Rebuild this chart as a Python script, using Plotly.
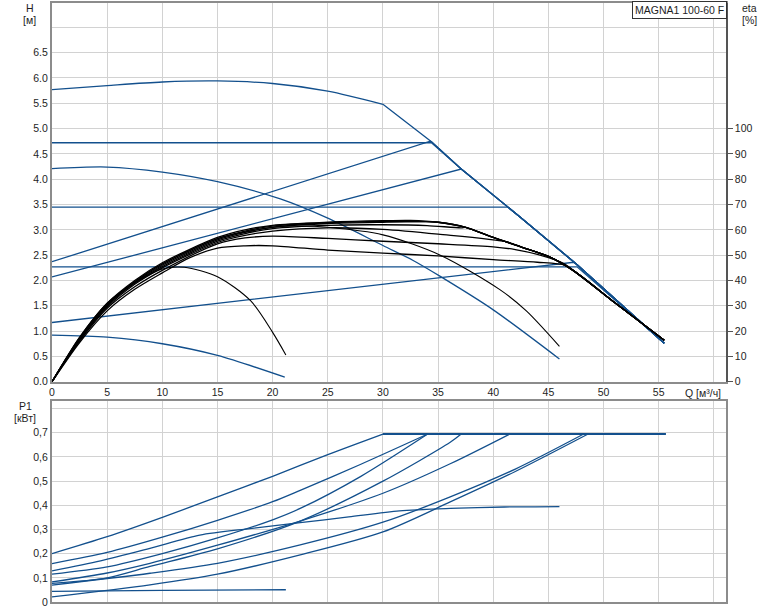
import plotly.graph_objects as go

# ------------------------------------------------------------------
# DATA
# ------------------------------------------------------------------
# Q [m3/h] / H [m] : maximum curve, speed-limited part and power-limited part
q_max_speed = [0, 5, 10, 15, 20, 25, 30.0]
h_max_speed = [5.77, 5.85, 5.92, 5.94, 5.89, 5.74, 5.48]
q_max_power = [30.0, 34.4, 37.1, 42.4, 47.5, 55.5]
h_max_power = [5.48, 4.74, 4.20, 3.26, 2.33, 0.76]

# fixed speed curve and minimum curve
q_fixed = [0, 5, 10, 15, 20.7, 25, 30, 32.7, 35.2, 40, 46]
h_fixed = [4.21, 4.24, 4.14, 3.95, 3.61, 3.23, 2.69, 2.40, 2.08, 1.42, 0.45]
q_min = [0, 5, 10, 15, 21.1]
h_min = [0.92, 0.88, 0.75, 0.52, 0.09]

# constant pressure levels and the flow where they meet the max curve
cp_level = [4.72, 3.45, 2.27]
cp_qend = [34.4, 41.3, 47.6]
# proportional pressure lines: start head, end flow, end head
pp_h0 = [2.37, 2.07, 1.17]
pp_qend = [34.3, 37.1, 47.3]
pp_hend = [4.75, 4.20, 2.36]

# efficiency curves eta [%]
eta_max_q = [0, 2.5, 5, 7.5, 10, 15, 17.5, 20, 25, 30, 32.5, 35, 37.5, 40, 42.5, 45, 47.3, 51, 55.5]
eta_max_v = [0, 17.5, 31, 40, 47, 57, 60, 61.8, 63, 63.6, 63.7, 63, 61, 57, 53.3, 49.5, 43.8, 31.3, 16.4]
eta_cp1_q = [0, 2.5, 5, 7.5, 10, 15, 17.5, 20, 25, 30, 34.4]
eta_cp1_v = [0, 17, 30.5, 39.5, 46.5, 56.5, 59.5, 61.5, 62.8, 63.3, 63.2]
eta_pp1_q = [0, 2.5, 5, 7.5, 10, 15, 17.5, 20, 25, 30, 34.3]
eta_pp1_v = [0, 17, 30.3, 39.2, 46, 56, 59, 61, 62.5, 63, 63.2]
eta_pp2_q = [0, 2.5, 5, 7.5, 10, 15, 17.5, 20, 25, 30, 34, 37.1]
eta_pp2_v = [0, 16.8, 30, 39, 45.5, 55.5, 58.5, 60.5, 61.8, 62, 61.7, 60.8]
eta_cp2_q = [0, 2.5, 5, 7.5, 10, 15, 17.5, 20, 25, 30, 35, 41.3]
eta_cp2_v = [0, 16.5, 29.5, 38.5, 45, 55, 57.8, 59.5, 60.8, 60.2, 58.3, 55.2]
eta_cp3_q = [0, 2.5, 5, 7.5, 10, 15, 17.5, 20, 25, 30, 35, 40, 42, 44, 46.4, 47.6]
eta_cp3_v = [0, 16, 29, 37.5, 44, 54.5, 56.8, 57.5, 56.6, 55.5, 54.5, 53.3, 52.2, 50.3, 46.7, 42.8]
eta_pp3_q = [0, 2.5, 5, 7.5, 10, 12.5, 15, 17.5, 20, 25, 30, 35, 40, 44, 46.5, 47.3]
eta_pp3_v = [0, 15.5, 28, 36.5, 43, 49, 52.8, 53.7, 53.7, 52, 50.8, 49.7, 48.2, 47.2, 46, 43.8]
eta_fix_q = [0, 2.5, 5, 7.5, 10, 15, 20, 22.5, 25, 30, 35.2, 40.6, 43, 46]
eta_fix_v = [0, 17, 30.5, 39.5, 46.5, 56.5, 61, 61.5, 61, 58, 50, 36.4, 28, 14]
eta_min_q = [0, 2.5, 5, 7.5, 10, 12, 15, 18, 20, 21.2]
eta_min_v = [0, 17.5, 31, 39, 44.5, 45.2, 41.5, 32, 19.5, 10.6]

# power P1 [kW]
p_limit = 0.695
p_qmax = 55.6
p_max_q = [0, 5, 10, 15, 20, 25, 30.0]
p_max_v = [0.20, 0.27, 0.35, 0.435, 0.52, 0.61, 0.695]
p_cp1_q = [0, 5, 10, 15, 20, 22.5, 28, 34.06]
p_cp1_v = [0.159, 0.205, 0.268, 0.338, 0.415, 0.462, 0.57, 0.695]
p_pp1_q = [0, 5, 10, 15, 20, 22.5, 28, 34.06]
p_pp1_v = [0.115, 0.145, 0.20, 0.265, 0.34, 0.387, 0.52, 0.695]
p_pp2_q = [0, 5, 8.88, 15, 22.5, 30, 36.1, 37.1]
p_pp2_v = [0.077, 0.10, 0.147, 0.22, 0.335, 0.50, 0.661, 0.695]
p_cp2_q = [0, 5, 8.88, 15, 22.5, 30, 36.1, 41.5]
p_cp2_v = [0.083, 0.12, 0.16, 0.235, 0.335, 0.45, 0.572, 0.695]
p_cp3_q = [0, 8.88, 15, 22.5, 30, 36.1, 42, 48.2]
p_cp3_v = [0.07, 0.119, 0.16, 0.236, 0.33, 0.435, 0.55, 0.695]
p_pp3_q = [0, 8.88, 15, 22.5, 30, 36.1, 42, 48.6]
p_pp3_v = [0.021, 0.071, 0.115, 0.195, 0.29, 0.414, 0.54, 0.695]
p_fix_q = [0, 4.4, 8.88, 13.4, 17.95, 22.5, 26.9, 31.5, 36.1, 41, 46]
p_fix_v = [0.129, 0.17, 0.222, 0.277, 0.304, 0.328, 0.352, 0.377, 0.387, 0.393, 0.395]
p_min_q = [0, 10, 21.2]
p_min_v = [0.044, 0.048, 0.0506]

# axis ticks
q_ticks = list(range(0, 65, 5))
h_ticks = [i * 0.5 for i in range(15)]
eta_ticks = list(range(0, 110, 10))
p_ticks = [i / 10 for i in range(9)]

title_text = "MAGNA1 100-60 F"

# ------------------------------------------------------------------
BLUE = "#13508d"
BLACK = "#000000"
LW = 1.3

fig = go.Figure()


def add(x, y, color, xa="x", ya="y", shape="linear", width=LW):
    fig.add_trace(go.Scatter(x=x, y=y, mode="lines", xaxis=xa, yaxis=ya,
                             line=dict(color=color, width=width, shape=shape,
                                       smoothing=0.8),
                             hoverinfo="skip"))


def tail_after(qend, qs, vs):
    xs = [q for q in qs if q > qend + 0.05]
    ys = [v for q, v in zip(qs, vs) if q > qend + 0.05]
    return xs, ys


# ---- Q-H curves (blue)
add(q_max_speed, h_max_speed, BLUE, shape="spline")
add(q_max_power, h_max_power, BLUE)
add(q_fixed, h_fixed, BLUE, shape="spline")
add(q_min, h_min, BLUE, shape="spline")
for lvl, qe in zip(cp_level, cp_qend):
    tx, ty = tail_after(qe, q_max_power, h_max_power)
    add([0, qe] + tx, [lvl, lvl] + ty, BLUE)
for h0, qe, he in zip(pp_h0, pp_qend, pp_hend):
    tx, ty = tail_after(qe, q_max_power, h_max_power)
    add([0, qe] + tx, [h0, he] + ty, BLUE)

# ---- efficiency curves (black, right axis)
add(eta_max_q, eta_max_v, BLACK, ya="y2", shape="spline")
for eq, ev in [(eta_cp1_q, eta_cp1_v), (eta_pp1_q, eta_pp1_v),
               (eta_pp2_q, eta_pp2_v), (eta_cp2_q, eta_cp2_v),
               (eta_cp3_q, eta_cp3_v), (eta_pp3_q, eta_pp3_v)]:
    tx, ty = tail_after(eq[-1], eta_max_q, eta_max_v)
    add(eq + tx, ev + ty, BLACK, ya="y2", shape="spline")
add(eta_fix_q, eta_fix_v, BLACK, ya="y2", shape="spline", width=1.1)
add(eta_min_q, eta_min_v, BLACK, ya="y2", shape="spline", width=1.1)

# ---- power curves (blue, lower plot)
for pq, pv in [(p_max_q, p_max_v), (p_cp1_q, p_cp1_v), (p_pp1_q, p_pp1_v),
               (p_pp2_q, p_pp2_v), (p_cp2_q, p_cp2_v), (p_cp3_q, p_cp3_v),
               (p_pp3_q, p_pp3_v)]:
    add(pq, pv, BLUE, xa="x2", ya="y3", shape="spline")
    add([pq[-1], p_qmax], [p_limit, p_limit], BLUE, xa="x2", ya="y3", width=1.8)
add(p_fix_q, p_fix_v, BLUE, xa="x2", ya="y3", shape="spline")
add(p_min_q, p_min_v, BLUE, xa="x2", ya="y3", shape="spline")

# ------------------------------------------------------------------
W, H = 774, 611
ML, MR, MT, MB = 52, 48, 1, 9
PW, PH = W - ML - MR, H - MT - MB
TOP_BOTTOM_PX = 381
BOT_TOP_PX = 400

GRID = "#d2d2d2"
AXC = "#8c8c8c"
TXT = "#1e1e1e"
FONT = "Liberation Sans, Arial, sans-serif"

common_x = dict(range=[0, 61.1], tickvals=q_ticks, showgrid=True, gridcolor=GRID,
                gridwidth=1, zeroline=False, showline=True, linecolor=AXC,
                linewidth=2, mirror=True, ticks="")
fig.update_layout(
    width=W, height=H,
    margin=dict(l=ML, r=MR, t=MT, b=MB),
    paper_bgcolor="white", plot_bgcolor="white",
    showlegend=False,
    font=dict(family=FONT, size=10.5, color=TXT),
    xaxis=dict(common_x, anchor="y", domain=[0, 1],
               ticktext=[str(v) for v in q_ticks[:-1]] + [""]),
    yaxis=dict(domain=[(PH - (TOP_BOTTOM_PX - MT)) / PH, 1], anchor="x", range=[0, 7.48],
               tickvals=h_ticks,
               ticktext=[f"{v:.1f}" for v in h_ticks[:-1]] + [""],
               showgrid=True, gridcolor=GRID, zeroline=False, showline=True,
               linecolor=AXC, linewidth=2, mirror=True, ticks=""),
    yaxis2=dict(overlaying="y", side="right", anchor="x", range=[0, 149.6],
                tickvals=eta_ticks, ticktext=[str(v) for v in eta_ticks],
                showgrid=False, zeroline=False, showline=True, linecolor="#555555",
                linewidth=1.5, ticks="outside", ticklen=5, tickcolor="#555555"),
    xaxis2=dict(common_x, anchor="y3", domain=[0, 1], showticklabels=False),
    yaxis3=dict(domain=[0, (PH - (BOT_TOP_PX - MT)) / PH], anchor="x2", range=[0, 0.833],
                tickvals=p_ticks,
                ticktext=[("0" if v == 0 else f"{v:.1f}".replace(".", ",")) for v in p_ticks[:-1]] + [""],
                showgrid=True, gridcolor=GRID, zeroline=False, showline=True,
                linecolor=AXC, linewidth=2, mirror=True, ticks=""),
)


def px(xp, yp):
    return (xp - ML) / PW, (PH - (yp - MT)) / PH


def label(text, xp, yp, **kw):
    x, y = px(xp, yp)
    fig.add_annotation(text=text, x=x, y=y, xref="paper", yref="paper",
                       showarrow=False, xanchor="center", yanchor="middle",
                       font=dict(family=FONT, size=10.5, color=TXT), **kw)


label("H", 30, 6)
label("[м]", 29, 18)
label("eta", 750, 6)
label("[%]", 749, 18)
label("P1", 25, 405)
label("[кВт]", 25, 417)
label("Q [м³/ч]", 703, 392)
label(title_text, 679, 8, bordercolor="#333333", borderwidth=1,
      borderpad=2, bgcolor="white")

fig.write_html("out.html", config={"displayModeBar": False},
               post_script="document.body.style.margin='0px';document.body.style.padding='0px';")
